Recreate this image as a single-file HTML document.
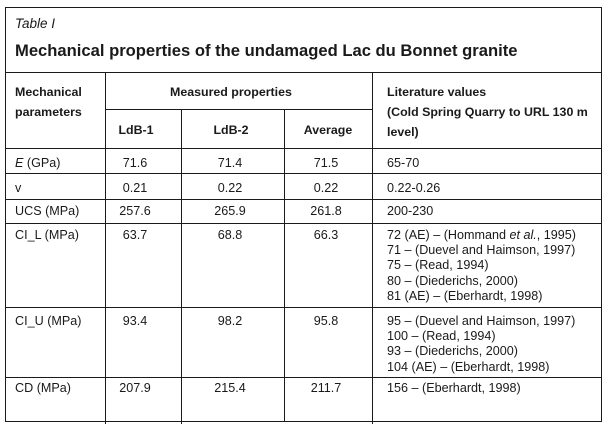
<!DOCTYPE html>
<html>
<head>
<meta charset="utf-8">
<style>
  html, body { margin:0; padding:0; background:#fff; }
  body { width:608px; height:429px; position:relative; overflow:hidden;
         font-family:"Liberation Sans", Arial, sans-serif; color:#1a1a1a; }
  .h { position:absolute; height:1px; background:#1a1a1a; }
  .v { position:absolute; width:1px; background:#1a1a1a; }
  .t { position:absolute; font-size:12.6px; line-height:15.2px; white-space:nowrap; }
  .b { font-weight:bold; font-size:12.4px; }
  .c { width:100px; text-align:center; }
  .hd { line-height:20px; }
</style>
</head>
<body>
  <!-- borders / rules -->
  <div class="h" style="left:5px; width:597px; top:7px;"></div>
  <div class="h" style="left:5px; width:597px; top:72px;"></div>
  <div class="h" style="left:105px; width:267px; top:109px;"></div>
  <div class="h" style="left:5px; width:597px; top:148px;"></div>
  <div class="h" style="left:5px; width:597px; top:173px;"></div>
  <div class="h" style="left:5px; width:597px; top:199px;"></div>
  <div class="h" style="left:5px; width:597px; top:223px;"></div>
  <div class="h" style="left:5px; width:597px; top:307px;"></div>
  <div class="h" style="left:5px; width:597px; top:377px;"></div>
  <div class="h" style="left:5px; width:597px; top:421px;"></div>

  <div class="v" style="left:5px; top:7px; height:415px;"></div>
  <div class="v" style="left:601px; top:7px; height:415px;"></div>
  <div class="v" style="left:105px; top:72px; height:352px;"></div>
  <div class="v" style="left:181px; top:109px; height:315px;"></div>
  <div class="v" style="left:284px; top:109px; height:313px;"></div>
  <div class="v" style="left:372px; top:72px; height:352px;"></div>

  <!-- titles -->
  <div class="t" style="left:15px; top:16px; font-size:13.5px; line-height:16px; font-style:italic;">Table I</div>
  <div class="t" style="left:15px; top:41px; font-size:16.6px; line-height:20px; font-weight:bold;">Mechanical properties of the undamaged Lac du Bonnet granite</div>

  <!-- header -->
  <div class="t b hd" style="left:15px; top:82px;">Mechanical<br>parameters</div>
  <div class="t b hd" style="left:170px; top:82px;">Measured properties</div>
  <div class="t b hd" style="left:387px; top:82px;">Literature values<br>(Cold Spring Quarry to URL 130 m<br>level)</div>
  <div class="t b c" style="left:86px; top:123px;">LdB-1</div>
  <div class="t b c" style="left:181px; top:123px;">LdB-2</div>
  <div class="t b c" style="left:278px; top:123px;">Average</div>

  <!-- E row -->
  <div class="t" style="left:15px; top:156px;"><i>E</i> (GPa)</div>
  <div class="t c" style="left:85px; top:156px;">71.6</div>
  <div class="t c" style="left:180px; top:156px;">71.4</div>
  <div class="t c" style="left:276px; top:156px;">71.5</div>
  <div class="t" style="left:387px; top:156px;">65-70</div>

  <!-- v row -->
  <div class="t" style="left:15px; top:181px;">v</div>
  <div class="t c" style="left:85px; top:181px;">0.21</div>
  <div class="t c" style="left:180px; top:181px;">0.22</div>
  <div class="t c" style="left:276px; top:181px;">0.22</div>
  <div class="t" style="left:387px; top:181px;">0.22-0.26</div>

  <!-- UCS row -->
  <div class="t" style="left:15px; top:204px;">UCS (MPa)</div>
  <div class="t c" style="left:85px; top:204px;">257.6</div>
  <div class="t c" style="left:180px; top:204px;">265.9</div>
  <div class="t c" style="left:276px; top:204px;">261.8</div>
  <div class="t" style="left:387px; top:204px;">200-230</div>

  <!-- CI_L row -->
  <div class="t" style="left:15px; top:228px;">CI_L (MPa)</div>
  <div class="t c" style="left:85px; top:228px;">63.7</div>
  <div class="t c" style="left:180px; top:228px;">68.8</div>
  <div class="t c" style="left:276px; top:228px;">66.3</div>
  <div class="t" style="left:387px; top:228px;">72 (AE) – (Hommand <i>et al.</i>, 1995)<br>71 – (Duevel and Haimson, 1997)<br>75 – (Read, 1994)<br>80 – (Diederichs, 2000)<br>81 (AE) – (Eberhardt, 1998)</div>

  <!-- CI_U row -->
  <div class="t" style="left:15px; top:314px;">CI_U (MPa)</div>
  <div class="t c" style="left:85px; top:314px;">93.4</div>
  <div class="t c" style="left:180px; top:314px;">98.2</div>
  <div class="t c" style="left:276px; top:314px;">95.8</div>
  <div class="t" style="left:387px; top:314px;">95 – (Duevel and Haimson, 1997)<br>100 – (Read, 1994)<br>93 – (Diederichs, 2000)<br>104 (AE) – (Eberhardt, 1998)</div>

  <!-- CD row -->
  <div class="t" style="left:15px; top:381px;">CD (MPa)</div>
  <div class="t c" style="left:85px; top:381px;">207.9</div>
  <div class="t c" style="left:180px; top:381px;">215.4</div>
  <div class="t c" style="left:276px; top:381px;">211.7</div>
  <div class="t" style="left:387px; top:381px;">156 – (Eberhardt, 1998)</div>
</body>
</html>
